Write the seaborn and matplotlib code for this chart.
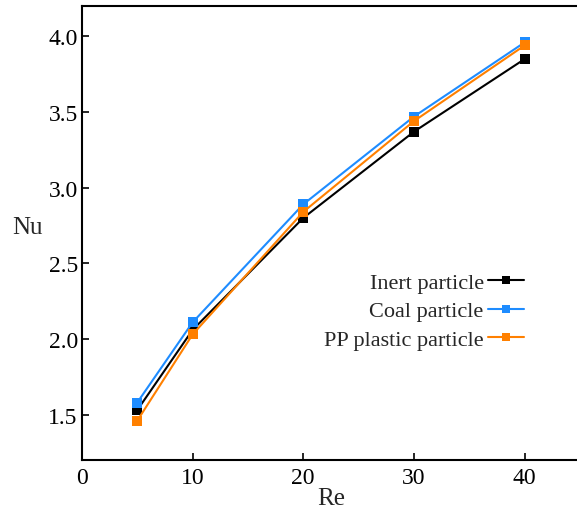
import pandas as pd
import numpy as np
import matplotlib.pyplot as plt
import seaborn as sns

re_vals = [5, 10, 20, 30, 40]
nu_inert = [1.53, 2.06, 2.80, 3.37, 3.85]
nu_coal = [1.58, 2.11, 2.89, 3.47, 3.96]
nu_pp = [1.46, 2.03, 2.84, 3.44, 3.94]
series = ['Inert particle', 'Coal particle', 'PP plastic particle']
colors = ['#000000', '#1E8CFF', '#FF8000']

df = pd.DataFrame({
    'Re': re_vals * 3,
    'Nu': nu_inert + nu_coal + nu_pp,
    'kind': [s for s in series for _ in re_vals],
})

sns.set_style('ticks')
plt.rcParams['font.family'] = ['Liberation Serif', 'DejaVu Serif']

fig = plt.figure(figsize=(5.77, 5.10), dpi=100)
ax = fig.add_axes([0.142, 0.096, 0.863, 0.890])
sns.lineplot(data=df, x='Re', y='Nu', hue='kind', palette=colors, marker='s',
             markersize=7, markeredgewidth=0, linewidth=1.5, ax=ax)

ax.set_xlim(0, 45)
ax.set_ylim(1.2, 4.2)
ax.set_xticks([0, 10, 20, 30, 40])
ax.set_yticks([1.5, 2.0, 2.5, 3.0, 3.5, 4.0])
ax.set_yticklabels(['1.5', '2.0', '2.5', '3.0', '3.5', '4.0'])
ax.tick_params(direction='in', length=5, width=1.2, labelsize=17, colors='black', pad=3)
ax.tick_params(axis='x', pad=5)
for sp in ax.spines.values():
    sp.set_linewidth(1.5)
    sp.set_color('black')
ax.set_xlabel('Re', fontsize=18)
ax.set_ylabel('Nu', fontsize=18, rotation=0)
ax.xaxis.set_label_coords(0.5, -0.06)
ax.yaxis.set_label_coords(-0.11, 0.49)

leg = ax.legend(title=None, frameon=False, markerfirst=False, fontsize=16,
                loc='center right', bbox_to_anchor=(0.905, 0.328), handlelength=1.6,
                handletextpad=0.2, labelspacing=0.35, borderaxespad=0)
for h in leg.legend_handles:
    h.set_markersize(6)

plt.savefig('out.png')
